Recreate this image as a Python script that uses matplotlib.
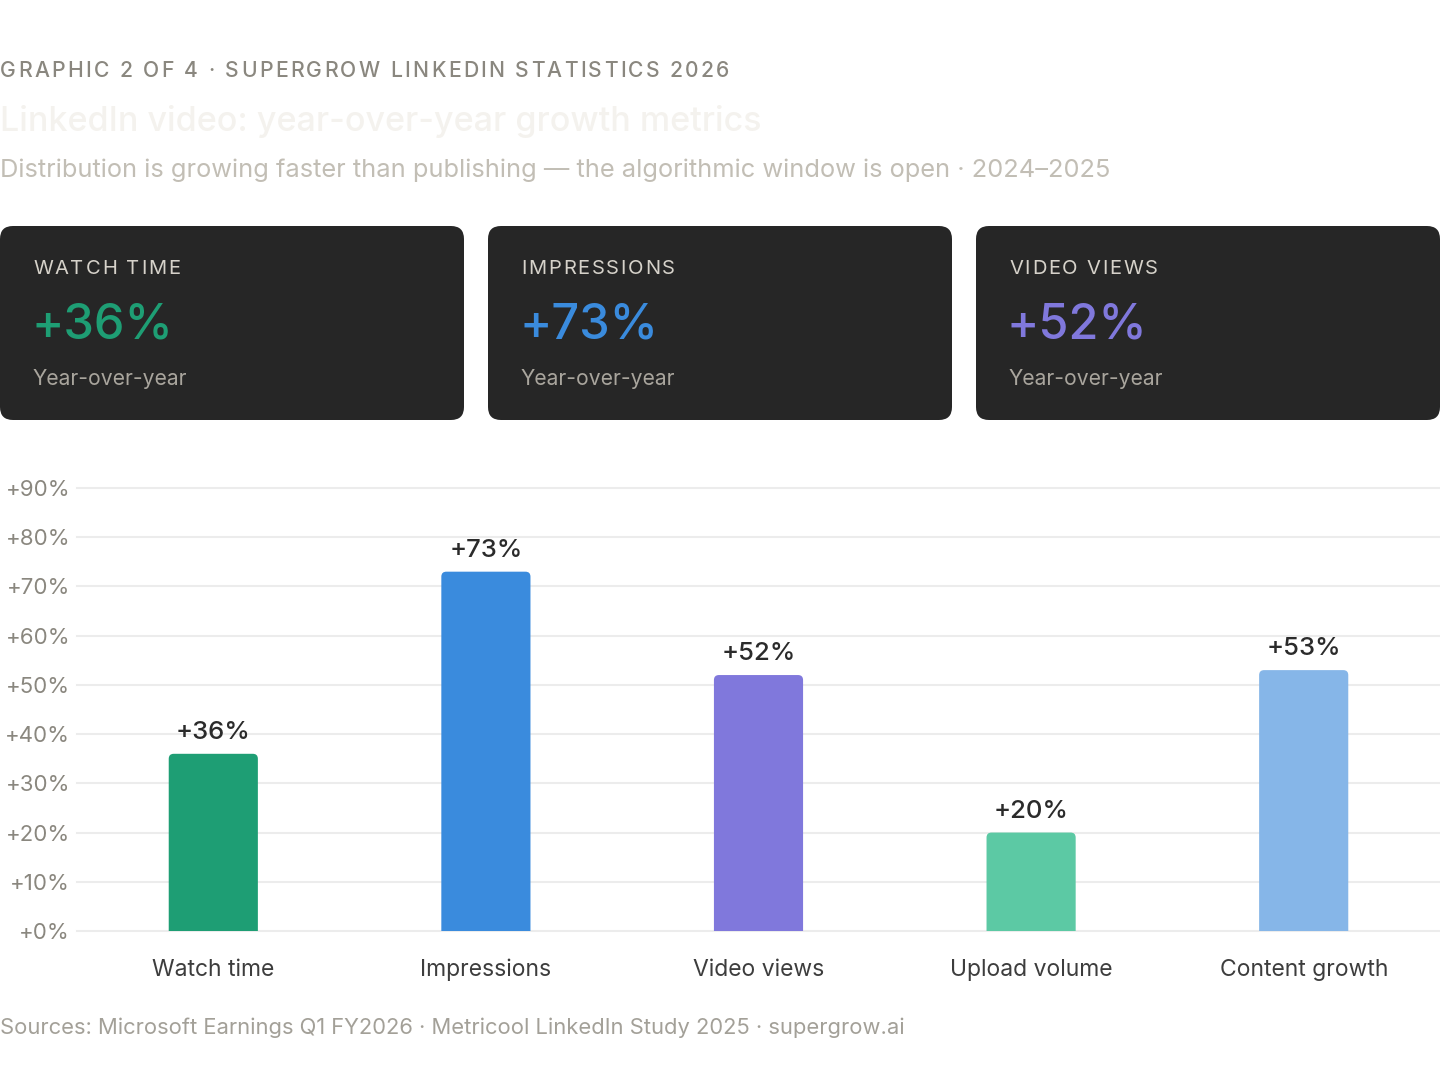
import matplotlib
matplotlib.use("Agg")
import matplotlib.pyplot as plt
from matplotlib.patches import FancyBboxPatch

plt.rcParams["font.family"] = ["Inter", "DejaVu Sans"]

# data
categories = ["Watch time", "Impressions", "Video views", "Upload volume", "Content growth"]
growth = [36, 73, 52, 20, 53]
bar_colors = ["#1e9e74", "#3a8bdd", "#8078dc", "#5cc9a4", "#86b6e8"]

card_labels = ["WATCH TIME", "IMPRESSIONS", "VIDEO VIEWS"]
card_values = ["+36%", "+73%", "+52%"]
card_colors = ["#1e9e74", "#3a8bdd", "#8078dc"]

y_ticks = [0, 10, 20, 30, 40, 50, 60, 70, 80, 90]

W, H = 1440, 1072
fig = plt.figure(figsize=(W / 100, H / 100), dpi=100)
fig.patch.set_facecolor("white")


def fx(px):
    return px / W


def fy(py):
    return 1 - py / H


def spaced_text(x_px, y_px, s, spacing_px, **kw):
    # letter-spaced text, drawn one glyph at a time
    renderer = fig.canvas.get_renderer()
    x = x_px
    for ch in s:
        t = fig.text(fx(x), fy(y_px), ch, ha="left", va="center", **kw)
        w = t.get_window_extent(renderer=renderer).width
        if ch == " ":
            w = t.get_fontsize() * 100 / 72 * 0.28
        x += w + spacing_px


# header
spaced_text(0, 71, "GRAPHIC 2 OF 4 · SUPERGROW LINKEDIN STATISTICS 2026", 2.3,
            fontsize=15.2, color="#8a877f", fontweight="medium")
fig.text(0, fy(122), "LinkedIn video: year-over-year growth metrics", fontsize=24.5,
         color="#f4f2ee", fontweight="medium", ha="left", va="center")
fig.text(0, fy(170), "Distribution is growing faster than publishing — the algorithmic window is open · 2024–2025",
         fontsize=18.3, color="#c2beb5", ha="left", va="center")

# stat cards
card_w, card_h, card_gap, card_top = 464, 194, 24, 226
for i, (lab, val, col) in enumerate(zip(card_labels, card_values, card_colors)):
    x0 = i * (card_w + card_gap)
    box = FancyBboxPatch((fx(x0), fy(card_top + card_h)), fx(card_w), card_h / H,
                         boxstyle="round,pad=0,rounding_size=0.009",
                         mutation_aspect=W / H,
                         transform=fig.transFigure, facecolor="#262626",
                         edgecolor="none", zorder=0)
    fig.patches.append(box)
    spaced_text(x0 + 33, 269, lab, 1.8, fontsize=14.5, color="#d6d2ca")
    fig.text(fx(x0 + 31), fy(325), val, fontsize=35, color=col,
             fontweight="medium", ha="left", va="center")
    fig.text(fx(x0 + 33), fy(379), "Year-over-year", fontsize=15.2,
             color="#a9a59d", ha="left", va="center")

# bar chart
ax_left, ax_right, ax_top, ax_bottom = 77, 1440, 488, 931
ax = fig.add_axes([fx(ax_left), fy(ax_bottom), fx(ax_right - ax_left), (ax_bottom - ax_top) / H])
ax.set_facecolor("none")
x = list(range(len(categories)))
bars = ax.bar(x, growth, width=0.327, color=bar_colors, zorder=3)
ax.set_xlim(-0.5, len(categories) - 0.5)
ax.set_ylim(0, 90)

# rounded tops: swap each bar for a rounded box that dips below the axis (clipped)
px_per_x = (ax_right - ax_left) / len(categories)
px_per_y = (ax_bottom - ax_top) / 90
for b in bars:
    b.set_visible(False)
    rb = FancyBboxPatch((b.get_x(), -3), b.get_width(), b.get_height() + 3,
                        boxstyle=f"round,pad=0,rounding_size={5 / px_per_x}",
                        mutation_aspect=px_per_x / px_per_y,
                        facecolor=b.get_facecolor(), edgecolor="none", zorder=3)
    ax.add_patch(rb)

ax.set_yticks(y_ticks)
ax.set_yticklabels([f"+{v}%" for v in y_ticks], fontsize=16, color="#8a877f")
ax.set_xticks(x)
ax.set_xticklabels(categories, fontsize=16.5, color="#3d3d3d")
ax.tick_params(axis="both", length=0)
ax.tick_params(axis="y", pad=5)
ax.tick_params(axis="x", pad=20)
for sp in ax.spines.values():
    sp.set_visible(False)
ax.grid(axis="y", color="#ececec", linewidth=1.5, zorder=0)
for gl in ax.get_ygridlines():
    gl.set_clip_on(False)

for b, v in zip(bars, growth):
    ax.annotate(f"+{v}%", (b.get_x() + b.get_width() / 2, v), xytext=(0, 7),
                textcoords="offset points", ha="center", va="bottom",
                fontsize=18.5, color="#2b2b2b", fontweight="medium")

fig.text(0, fy(1028), "Sources: Microsoft Earnings Q1 FY2026 · Metricool LinkedIn Study 2025 · supergrow.ai",
         fontsize=15.8, color="#a3a098", ha="left", va="center")

fig.savefig("out.png", dpi=100, facecolor="white")
